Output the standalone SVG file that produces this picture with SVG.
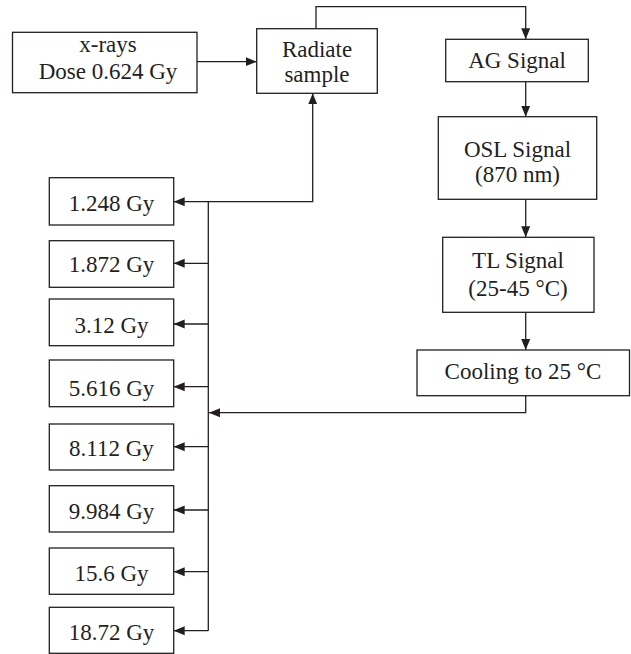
<svg xmlns="http://www.w3.org/2000/svg" width="631" height="654" viewBox="0 0 631 654">
<defs>
<marker id="ah" markerUnits="userSpaceOnUse" markerWidth="12" markerHeight="10" refX="11" refY="5" orient="auto">
<path d="M0,0.5 L11,5 L0,9.5 Z" fill="#231f20"/>
</marker>
<style>
rect{fill:#fff;stroke:#231f20;stroke-width:1.3}
text{font-family:"Liberation Serif","Times New Roman",serif;font-size:23px;fill:#231f20;text-anchor:middle}
.c{fill:none;stroke:#231f20;stroke-width:1.3}
</style>
</defs>
<rect x="0" y="0" width="631" height="654" style="fill:#fff;stroke:none"/>
<g id="connectors">
<path class="c" d="M197,61.7 H256.7" marker-end="url(#ah)"/>
<path class="c" d="M316,28.7 V6.7 H525.7 V39.3" marker-end="url(#ah)"/>
<path class="c" d="M525.7,81.7 V116.7" marker-end="url(#ah)"/>
<path class="c" d="M525.7,199.3 V237.3" marker-end="url(#ah)"/>
<path class="c" d="M525.7,312.3 V350" marker-end="url(#ah)"/>
<path class="c" d="M525.7,395.7 V412.7 H209" marker-end="url(#ah)"/>
<path class="c" d="M208.3,630.7 V201.7 H312.7 V93.3" marker-end="url(#ah)"/>
<path class="c" d="M208.3,201.7 H173.7" marker-end="url(#ah)"/>
<path class="c" d="M208.3,263.3 H173.7" marker-end="url(#ah)"/>
<path class="c" d="M208.3,324 H173.7" marker-end="url(#ah)"/>
<path class="c" d="M208.3,386.7 H173.7" marker-end="url(#ah)"/>
<path class="c" d="M208.3,446.7 H173.7" marker-end="url(#ah)"/>
<path class="c" d="M208.3,510 H173.7" marker-end="url(#ah)"/>
<path class="c" d="M208.3,571.7 H173.7" marker-end="url(#ah)"/>
<path class="c" d="M208.3,630.7 H173.7" marker-end="url(#ah)"/>
</g>
<g id="xrays"><rect x="12.5" y="32.3" width="184.5" height="60.4"/><text x="108" y="51.7">x-rays</text><text x="108" y="79.3">Dose 0.624 Gy</text></g>
<g id="radiate"><rect x="256.7" y="28.7" width="120.6" height="64.6"/><text x="317" y="56.7">Radiate</text><text x="317" y="81.7">sample</text></g>
<g id="ag"><rect x="445.7" y="39.3" width="142.6" height="42.4"/><text x="517" y="68.3">AG Signal</text></g>
<g id="osl"><rect x="438.3" y="116.7" width="158.4" height="82.6"/><text x="517.5" y="156.7">OSL Signal</text><text x="517.5" y="182">(870 nm)</text></g>
<g id="tl"><rect x="442.7" y="237.3" width="151.3" height="75"/><text x="518" y="268.3">TL Signal</text><text x="518" y="296">(25-45 °C)</text></g>
<g id="cooling"><rect x="417" y="350" width="212.5" height="45.7"/><text x="523" y="379.3">Cooling to 25 °C</text></g>
<g id="d1"><rect x="49.3" y="177.7" width="124.4" height="47.3"/><text x="111.5" y="210.5">1.248 Gy</text></g>
<g id="d2"><rect x="49.3" y="240.7" width="124.4" height="46.6"/><text x="111.5" y="272">1.872 Gy</text></g>
<g id="d3"><rect x="49.3" y="299" width="124.4" height="46.7"/><text x="111.5" y="333">3.12 Gy</text></g>
<g id="d4"><rect x="49.3" y="360" width="124.4" height="46.7"/><text x="111.5" y="395.5">5.616 Gy</text></g>
<g id="d5"><rect x="49.3" y="424" width="124.4" height="46"/><text x="111.5" y="455.5">8.112 Gy</text></g>
<g id="d6"><rect x="49.3" y="485.7" width="124.4" height="46.3"/><text x="111.5" y="518.5">9.984 Gy</text></g>
<g id="d7"><rect x="49.3" y="548" width="124.4" height="46.3"/><text x="111.5" y="580.5">15.6 Gy</text></g>
<g id="d8"><rect x="49.3" y="607.3" width="124.4" height="46"/><text x="111.5" y="639.5">18.72 Gy</text></g>
</svg>
